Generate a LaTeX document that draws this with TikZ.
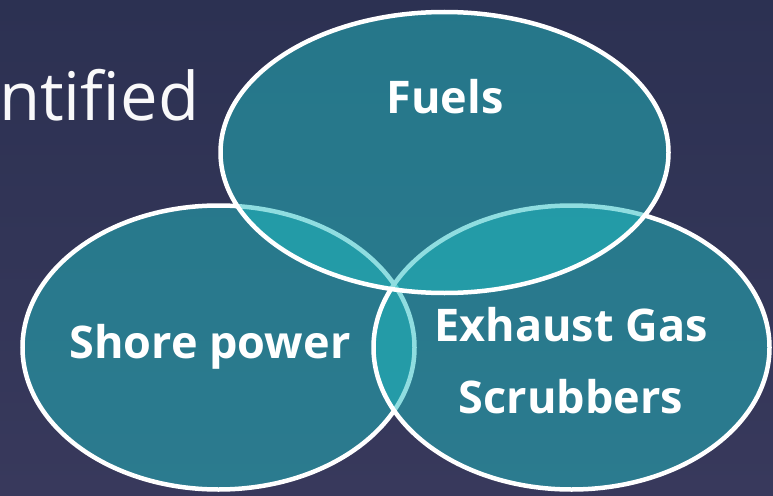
\documentclass[tikz,border=0pt]{standalone}
\usepackage{fontspec}
\setmainfont{Open Sans}
\usepackage{tikz}
\usetikzlibrary{shapes.geometric}

\definecolor{slidetop}{RGB}{44,49,82}
\definecolor{slidebot}{RGB}{56,57,92}
\definecolor{vennteal}{RGB}{32,189,194}

\tikzset{
  venn/.style={ellipse,draw=white,line width=4.5pt,fill=vennteal,fill opacity=0.5,
    text opacity=1,inner sep=0pt},
  vennlabel/.style={text=white,font=\fontsize{45}{72}\selectfont\bfseries,align=center},
}

\begin{document}
\begin{tikzpicture}[x=1pt,y=-1pt]
\useasboundingbox (0,0) rectangle (773,495);
\shade[top color=slidetop,bottom color=slidebot] (0,0) rectangle (773,495);
% title fragment
\node[anchor=base west,inner sep=0pt,text=white!97!slidetop,
  font=\fontsize{67}{80}\selectfont] (title) at (-1,120) {ntified};
% three circles, bottom to top
\node[venn,minimum width=392pt,minimum height=284pt] (shore) at (218.5,347.5) {};
\node[venn,minimum width=396pt,minimum height=284pt] (scrub) at (571.5,347.5) {};
\node[venn,minimum width=448pt,minimum height=281pt] (fuels) at (444.5,152.5) {};
% labels
\node[vennlabel,anchor=base] (fuelstxt) at (445,113) {Fuels};
\node[vennlabel,anchor=base] (shoretxt) at (210,358) {Shore power};
\node[vennlabel,anchor=center] (scrubtxt) at (571,361) {Exhaust Gas\\Scrubbers};
\end{tikzpicture}
\end{document}
